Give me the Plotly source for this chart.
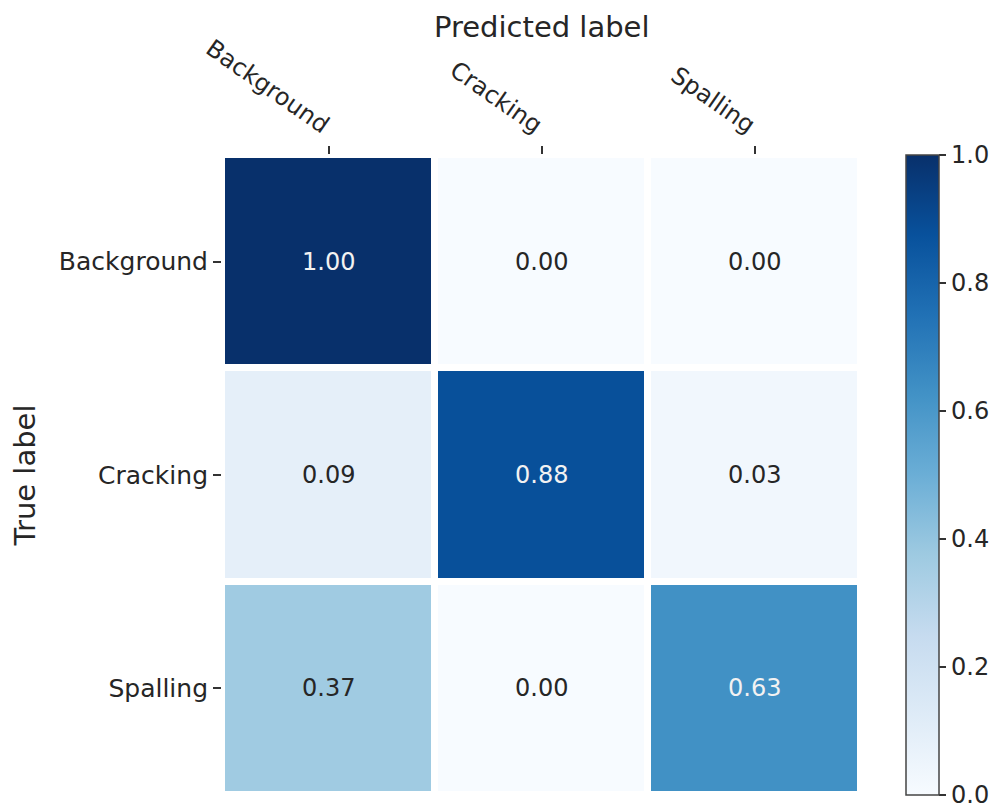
import plotly.graph_objects as go

# Normalized confusion matrix (rows: true class, columns: predicted class)
class_names = ["Background", "Cracking", "Spalling"]
row_background = [1.00, 0.00, 0.00]
row_cracking = [0.09, 0.88, 0.03]
row_spalling = [0.37, 0.00, 0.63]
matrix = [row_background, row_cracking, row_spalling]
colorbar_ticks = [0.0, 0.2, 0.4, 0.6, 0.8, 1.0]

FONT = "DejaVu Sans"
TEXT_COLOR = "#262626"
TICK_SIZE = 24
TITLE_SIZE = 29

fig = go.Figure(
    go.Heatmap(
        z=matrix,
        x=class_names,
        y=class_names,
        zmin=0,
        zmax=1,
        colorscale="Blues",
        xgap=7,
        ygap=7,
        hoverinfo="skip",
        colorbar=dict(
            x=1.070,
            xanchor="left",
            y=0,
            yanchor="bottom",
            len=1,
            lenmode="fraction",
            thickness=33,
            xpad=0,
            ypad=0,
            outlinewidth=1.5,
            outlinecolor="#444444",
            tickvals=colorbar_ticks,
            ticktext=[f"{v:.1f}" for v in colorbar_ticks],
            ticks="outside",
            ticklen=7,
            tickwidth=1.5,
            tickcolor="#333333",
            ticklabeloverflow="allow",
            tickfont=dict(family=FONT, size=TICK_SIZE, color=TEXT_COLOR),
        ),
    )
)

# Cell value labels: white on dark cells, dark on light cells
threshold = 0.5
for i, true_name in enumerate(class_names):
    for j, pred_name in enumerate(class_names):
        value = matrix[i][j]
        fig.add_annotation(
            x=pred_name,
            y=true_name,
            text=f"{value:.2f}",
            showarrow=False,
            font=dict(
                family=FONT,
                size=TICK_SIZE,
                color="#f2f2f2" if value > threshold else TEXT_COLOR,
            ),
        )

# Column-axis title centred above the rotated class names
fig.add_annotation(
    text="Predicted label",
    xref="paper",
    yref="paper",
    x=0.5,
    y=1.2,
    xanchor="center",
    yanchor="middle",
    showarrow=False,
    font=dict(family=FONT, size=TITLE_SIZE, color=TEXT_COLOR),
)

fig.update_layout(
    width=1008,
    height=808,
    margin=dict(l=222, r=147, t=155, b=13),
    paper_bgcolor="white",
    plot_bgcolor="white",
    font=dict(family=FONT, color=TEXT_COLOR),
    xaxis=dict(
        side="top",
        tickangle=35,
        ticks="outside",
        ticklen=8,
        tickwidth=1.5,
        tickcolor="#333333",
        tickfont=dict(family=FONT, size=TICK_SIZE, color=TEXT_COLOR),
        showgrid=False,
        zeroline=False,
        showline=False,
    ),
    yaxis=dict(
        autorange="reversed",
        ticks="outside",
        ticklen=8,
        tickwidth=1.5,
        tickcolor="#333333",
        tickfont=dict(family=FONT, size=25, color=TEXT_COLOR),
        showgrid=False,
        zeroline=False,
        showline=False,
        title=dict(
            text="True label",
            font=dict(family=FONT, size=TITLE_SIZE, color=TEXT_COLOR),
            standoff=14,
        ),
    ),
)

fig.write_html("out.html")
